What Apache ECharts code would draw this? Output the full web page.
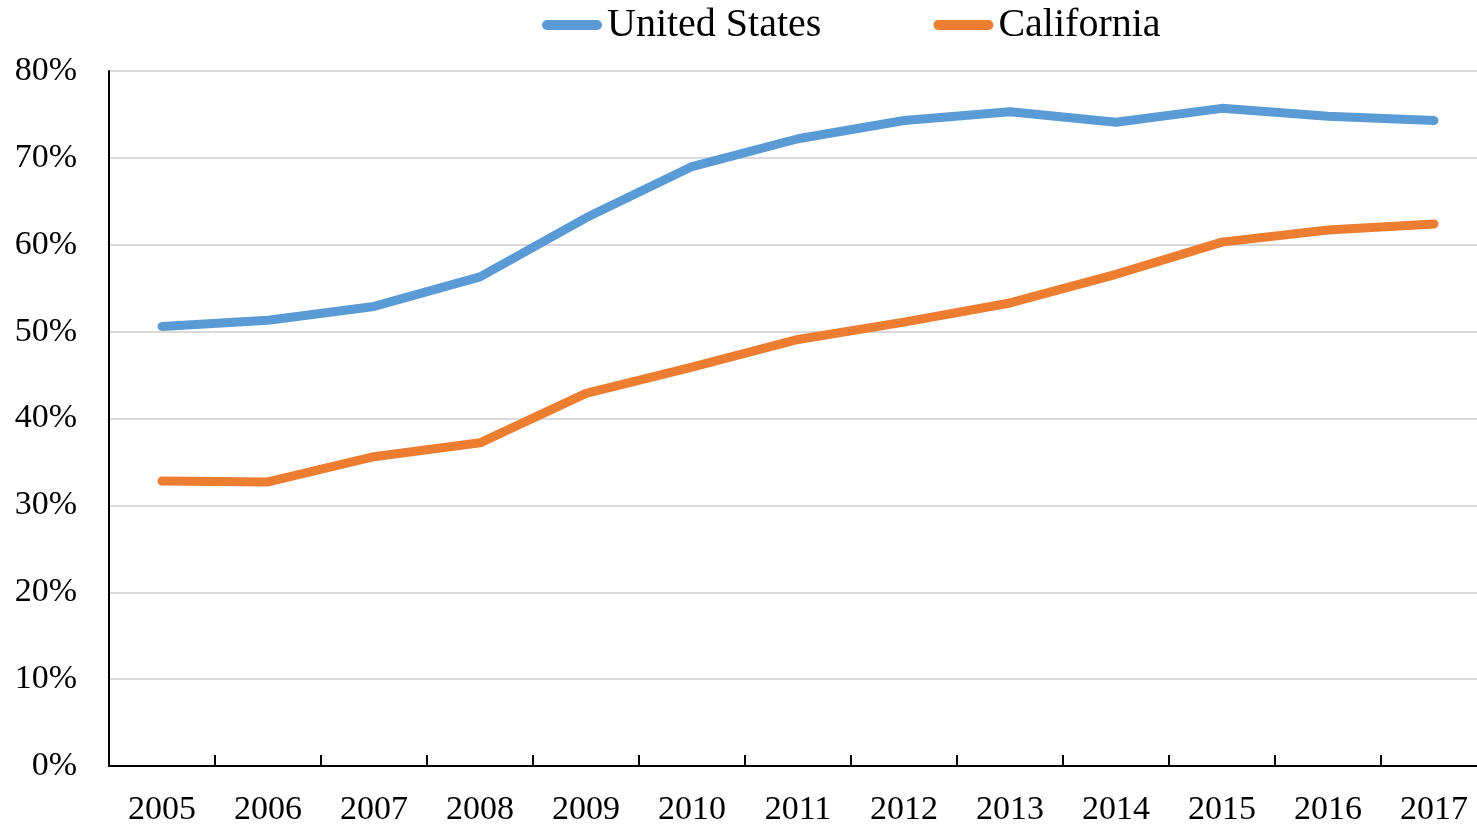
<!DOCTYPE html>
<html>
<head>
<meta charset="utf-8">
<script src="https://cdn.jsdelivr.net/npm/echarts@6/dist/echarts.min.js"></script>
<style>
  html, body { margin: 0; padding: 0; background: #fff; }
  #chart { width: 1477px; height: 824px; }
</style>
</head>
<body>
<div id="chart"></div>
<script>
const years = ["2005", "2006", "2007", "2008", "2009", "2010", "2011", "2012", "2013", "2014", "2015", "2016", "2017"];
const unitedStates = [50.6, 51.3, 52.9, 56.3, 63.1, 69.0, 72.2, 74.3, 75.3, 74.1, 75.7, 74.8, 74.3];
const california = [32.8, 32.7, 35.6, 37.2, 42.9, 45.9, 49.1, 51.1, 53.3, 56.6, 60.3, 61.7, 62.4];

const font = "'Liberation Serif', 'Times New Roman', serif";
const capsule = "path://M5,0 H55 A5,5 0 0 1 55,10 H5 A5,5 0 0 1 5,0 Z";

const chart = echarts.init(document.getElementById("chart"));
chart.setOption({
  animation: false,
  grid: { left: 109, right: -10, top: 71, bottom: 58, outerBoundsMode: "none", containLabel: false },
  legend: {
    top: 5,
    left: 542,
    padding: 0,
    itemWidth: 60,
    itemHeight: 10,
    itemGap: 112,
    icon: capsule,
    textStyle: { fontFamily: font, fontSize: 40, color: "#000" },
    data: ["United States", "California"]
  },
  xAxis: {
    type: "category",
    data: years,
    boundaryGap: true,
    axisLine: { lineStyle: { color: "#000", width: 2 } },
    axisTick: { show: true, inside: true, interval: 0, length: 11, lineStyle: { color: "#000", width: 2 } },
    axisLabel: { fontFamily: font, fontSize: 34, color: "#000", margin: 27 }
  },
  yAxis: {
    type: "value",
    min: 0,
    max: 80,
    interval: 10,
    axisLine: { show: true, lineStyle: { color: "#000", width: 2 } },
    axisTick: { show: false },
    splitLine: { lineStyle: { color: "#d9d9d9", width: 2 } },
    axisLabel: { fontFamily: font, fontSize: 34, color: "#000", margin: 32, formatter: "{value}%" }
  },
  series: [
    {
      name: "United States",
      type: "line",
      data: unitedStates,
      symbol: "none",
      color: "#5b9bd5",
      lineStyle: { width: 9, cap: "round", join: "round" }
    },
    {
      name: "California",
      type: "line",
      data: california,
      symbol: "none",
      color: "#ed7d31",
      lineStyle: { width: 9, cap: "round", join: "round" }
    }
  ]
});
</script>
</body>
</html>
